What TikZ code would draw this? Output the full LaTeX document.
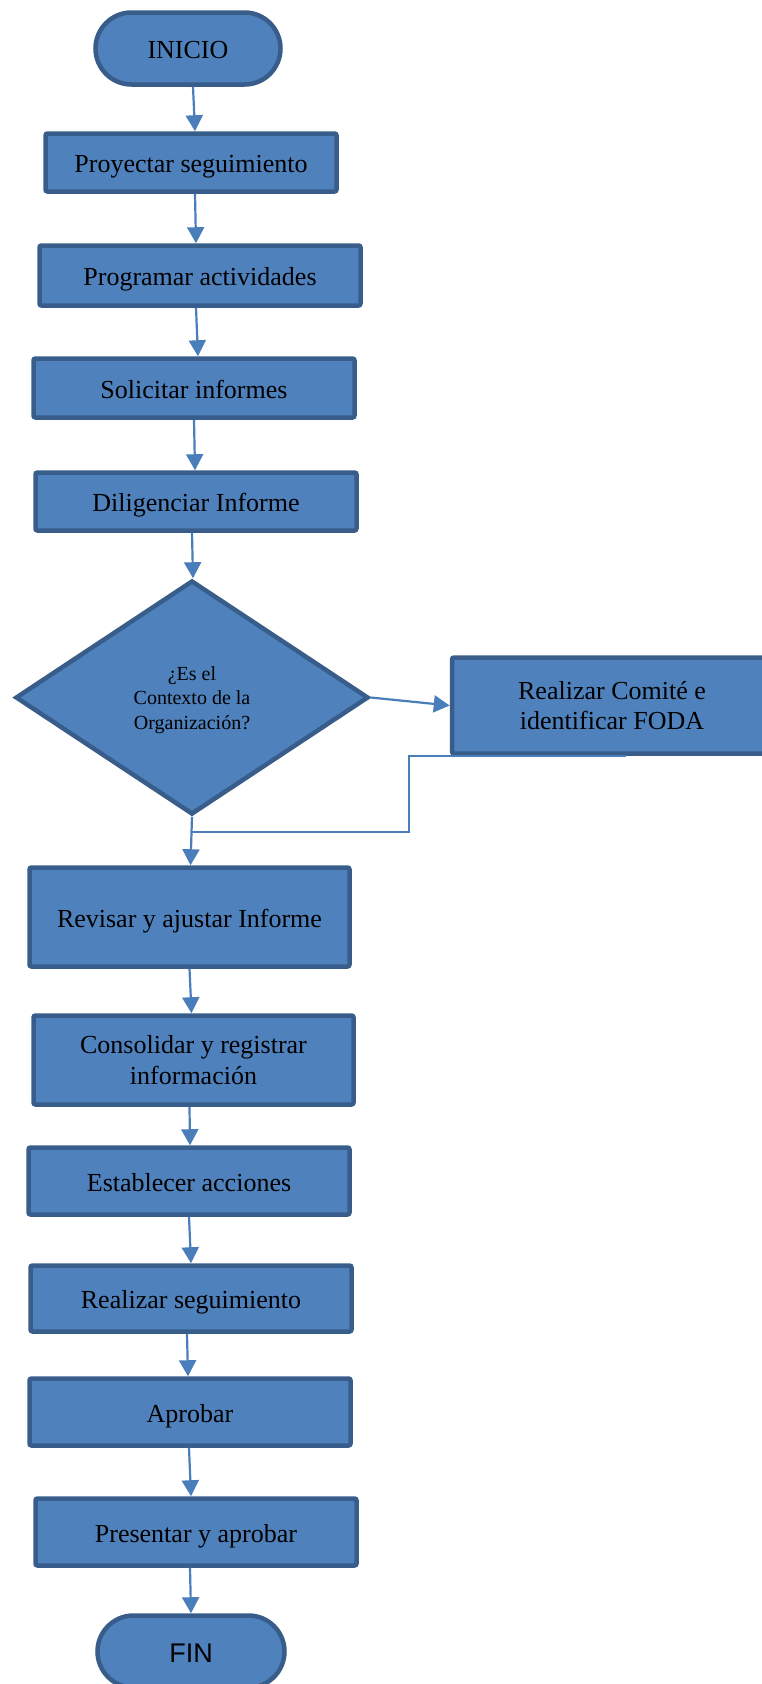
\documentclass[tikz,border=0pt]{standalone}
\usepackage{fontspec}
\setmainfont{Liberation Serif}
\newfontfamily\arialfont{Liberation Sans}
\usetikzlibrary{shapes.geometric,shapes.misc,arrows.meta,calc}
\definecolor{boxfill}{HTML}{4F81BD}
\definecolor{boxline}{HTML}{385D8A}
\definecolor{conn}{HTML}{4A7EBB}
\tikzset{
  procbox/.style={draw=boxline, fill=boxfill, line width=4.5pt, rounded corners=2pt,
    inner sep=0pt, align=center, font=\fontsize{26}{30.5}\selectfont},
  oneline/.style={text height=26pt, text depth=6pt},
  termbox/.style={draw=boxline, fill=boxfill, line width=4.5pt, rounded rectangle,
    inner sep=0pt, font=\fontsize{26}{30}\selectfont, text height=26pt, text depth=6pt},
  decbox/.style={draw=boxline, fill=boxfill, line width=4.5pt, diamond, inner sep=0pt,
    font=\fontsize{20}{24.5}\selectfont},
  conarrow/.style={draw=conn, line width=2.2pt, -{Triangle[width=17pt,length=16pt]}},
  retline/.style={draw=conn, line width=1.6pt},
}
\begin{document}
\begin{tikzpicture}[x=1pt,y=-1pt]
\useasboundingbox (0,0) rectangle (761,1684);
\node[termbox, minimum width=185pt, minimum height=72pt] (ini) at (188,48.5) {INICIO};
\node[procbox, oneline, minimum width=291pt, minimum height=58pt] (p1) at (191,162.5) {Proyectar seguimiento};
\node[procbox, oneline, minimum width=321pt, minimum height=60pt] (p2) at (200,275.5) {Programar actividades};
\node[procbox, oneline, minimum width=321pt, minimum height=59pt] (p3) at (194,388) {Solicitar informes};
\node[procbox, oneline, minimum width=321pt, minimum height=58pt] (p4) at (196,501.5) {Diligenciar Informe};
\node[decbox, minimum width=353pt, minimum height=234pt] (dec) at (192,697.5)
  {\raisebox{-7.5pt}[0pt][0pt]{\begin{tabular}{@{}c@{}}¿Es el\\Contexto de la\\Organización?\end{tabular}}};
\node[procbox, minimum width=320pt, minimum height=96pt] (com) at (612,705.5) {Realizar Comité e\\identificar FODA};
\node[procbox, oneline, minimum width=320pt, minimum height=99pt] (p5) at (189.5,917) {Revisar y ajustar Informe};
\node[procbox, minimum width=320pt, minimum height=89pt] (p6) at (193.5,1060) {Consolidar y registrar\\información};
\node[procbox, oneline, minimum width=321pt, minimum height=67pt] (p7) at (189,1181) {Establecer acciones};
\node[procbox, oneline, minimum width=321pt, minimum height=66pt] (p8) at (191,1298.5) {Realizar seguimiento};
\node[procbox, oneline, minimum width=321pt, minimum height=67pt] (p9) at (190,1412) {Aprobar};
\node[procbox, oneline, minimum width=321pt, minimum height=67pt] (p10) at (196,1532) {Presentar y aprobar};
\node[termbox, minimum width=187pt, minimum height=72pt, font=\arialfont\fontsize{27}{30}\selectfont, text height=28pt] (fin) at (191,1651.5) {FIN};

\draw[conarrow] ([xshift=5pt]ini.south) -- ([xshift=4pt]p1.north);
\draw[conarrow] ([xshift=4pt]p1.south) -- ([xshift=-4pt]p2.north);
\draw[conarrow] ([xshift=-4pt]p2.south) -- ([xshift=4pt]p3.north);
\draw[conarrow] (p3.south) -- ([xshift=-1pt]p4.north);
\draw[conarrow] ([xshift=-4pt]p4.south) -- ([xshift=1pt]dec.north);
\draw[conarrow] (dec.east) -- (com.west);
\draw[conarrow] (dec.south) -- ([xshift=1pt]p5.north);
\coordinate (joinpt) at (191,832);
\draw[retline] ([xshift=176pt]com.south west) -- ([xshift=-41pt]com.south west) |- (joinpt);
\draw[conarrow] (p5.south) -- ([xshift=-2pt]p6.north);
\draw[conarrow] ([xshift=-4pt]p6.south) -- ([xshift=1pt]p7.north);
\draw[conarrow] (p7.south) -- (p8.north);
\draw[conarrow] ([xshift=-4pt]p8.south) -- ([xshift=-2pt]p9.north);
\draw[conarrow] ([xshift=-1pt]p9.south) -- ([xshift=-5pt]p10.north);
\draw[conarrow] ([xshift=-6pt]p10.south) -- (fin.north);
\end{tikzpicture}
\end{document}
